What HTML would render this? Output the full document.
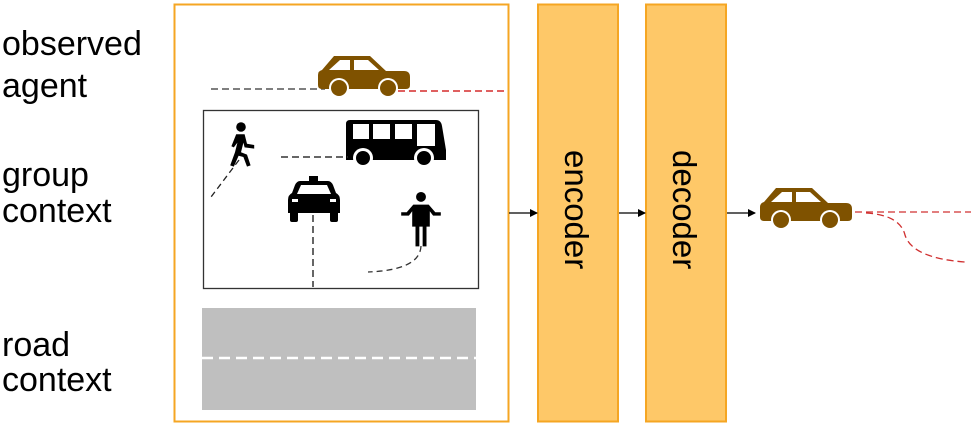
<!DOCTYPE html>
<html><head><style>html,body{margin:0;padding:0;background:#fff}svg{display:block}</style></head><body>
<svg width="974" height="427" viewBox="0 0 974 427" xmlns="http://www.w3.org/2000/svg">
<defs>
<g id="car">
<path d="M16 -2 H52 L68 13 H86 Q92 13 92 19 V27 Q92 31 88 31 H4 Q0 31 0 27 V17 Q0 13 4 12 Z" fill="#7F5200"/>
<path d="M22 2 H32 V12 H11 Z M36 2 H50 L61 12 H36 Z" fill="#fff"/>
<circle cx="21" cy="30" r="10" fill="#fff"/><circle cx="21" cy="30" r="8" fill="#7F5200"/>
<circle cx="70" cy="30" r="10" fill="#fff"/><circle cx="70" cy="30" r="8" fill="#7F5200"/>
</g>
<marker id="ar" markerWidth="8" markerHeight="8" refX="7" refY="4" orient="auto" markerUnits="userSpaceOnUse"><path d="M0 0 L8 4 L0 8 Z" fill="#000"/></marker>
</defs>
<g font-family="Liberation Sans, Arial, sans-serif" font-size="34" fill="#000">
<text x="2" y="55">observed</text><text x="2" y="97">agent</text>
<text x="2" y="186">group</text><text x="2" y="222">context</text>
<text x="2" y="356">road</text><text x="2" y="391">context</text>
</g>
<rect x="174.5" y="4.5" width="334" height="417" fill="#fff" stroke="#F5A623" stroke-width="2"/>
<rect x="538" y="4.5" width="80" height="417" fill="#FEC868" stroke="#F5A623" stroke-width="2"/>
<rect x="646" y="4.5" width="80" height="417" fill="#FEC868" stroke="#F5A623" stroke-width="2"/>
<text transform="translate(565,150) rotate(90)" font-family="Liberation Sans, Arial, sans-serif" font-size="33">encoder</text>
<text transform="translate(673,150) rotate(90)" font-family="Liberation Sans, Arial, sans-serif" font-size="33">decoder</text>
<line x1="509" y1="213" x2="537" y2="213" stroke="#000" stroke-width="1.3" marker-end="url(#ar)"/>
<line x1="619" y1="213" x2="645" y2="213" stroke="#000" stroke-width="1.3" marker-end="url(#ar)"/>
<line x1="727" y1="213" x2="755" y2="213" stroke="#000" stroke-width="1.3" marker-end="url(#ar)"/>
<line x1="211" y1="89" x2="325" y2="89" stroke="#555" stroke-width="1.5" stroke-dasharray="7,4"/>
<line x1="398" y1="91" x2="505" y2="91" stroke="#C00" stroke-width="1.3" stroke-dasharray="7,4"/>
<use href="#car" x="318" y="58"/>
<rect x="203.5" y="110.5" width="275" height="178" fill="#fff" stroke="#333" stroke-width="1.3"/>
<g fill="#000" transform="translate(241,127) scale(1.2) translate(-241,-127)"><circle cx="241" cy="127" r="4"/>
<path d="M237 133 L244 133 L246 141 L252 142 L252 145 L244 144 L243 140 L241 148 L246 150 L249 159 L246 160 L243 152 L239 151 L235 160 L232 159 L236 148 L238 140 L235 144 L233 143 Z"/></g>
<line x1="239" y1="160" x2="211" y2="197" stroke="#222" stroke-width="1.3" stroke-dasharray="6,4"/>
<path d="M350 120 H436 Q441 120 442 126 L446 150 V160 H346 V124 Q346 120 350 120 Z" fill="#000"/>
<g fill="#fff"><rect x="353" y="124" width="16" height="15"/><rect x="373" y="124" width="17" height="15"/><rect x="395" y="124" width="17" height="15"/><rect x="417" y="124" width="18" height="22"/></g>
<circle cx="363" cy="158" r="10" fill="#fff"/><circle cx="363" cy="158" r="7" fill="#000"/>
<circle cx="424" cy="158" r="10" fill="#fff"/><circle cx="424" cy="158" r="7" fill="#000"/>
<line x1="281" y1="157" x2="348" y2="157" stroke="#333" stroke-width="1.5" stroke-dasharray="7,4"/>
<rect x="309" y="176" width="9" height="5" fill="#000"/>
<path d="M300 181 H328 Q331 181 333 185 L336 193 Q340 195 340 200 V213 H288 V200 Q288 195 292 193 L295 185 Q297 181 300 181 Z" fill="#000"/>
<path d="M301 185 H327 L331 194 H297 Z" fill="#fff"/>
<rect x="292" y="199" width="6" height="3" fill="#fff"/><rect x="330" y="199" width="6" height="3" fill="#fff"/>
<rect x="290" y="210" width="8" height="12" rx="2" fill="#000"/><rect x="330" y="210" width="8" height="12" rx="2" fill="#000"/>
<line x1="313" y1="215" x2="313" y2="287" stroke="#333" stroke-width="1.5" stroke-dasharray="7,4"/>
<g fill="#000" transform="translate(421,220) scale(1.1) translate(-421,-220)"><circle cx="421" cy="199" r="4.5"/>
<path d="M414 206 H428 L434 213 L439 213 L439 216 L432 216 L429 212 V226 H426 V244 H422.5 V226 H419.5 V244 H416 V226 H413 V212 L410 216 L403 216 L403 213 L408 213 Z"/></g>
<path d="M421 246 Q420 270 368 272" fill="none" stroke="#333" stroke-width="1.3" stroke-dasharray="6,4"/>
<rect x="202" y="308" width="274" height="102" fill="#BFBFBF"/>
<line x1="202" y1="358" x2="476" y2="358" stroke="#fff" stroke-width="2.5" stroke-dasharray="11,6"/>
<use href="#car" x="760" y="190"/>
<line x1="855" y1="212" x2="971" y2="212" stroke="#D03030" stroke-width="1.3" stroke-dasharray="7,4"/>
<path d="M866 213 Q900 215 905 235 Q912 258 965 262" fill="none" stroke="#D03030" stroke-width="1.3" stroke-dasharray="7,4"/>
</svg>
</body></html>
